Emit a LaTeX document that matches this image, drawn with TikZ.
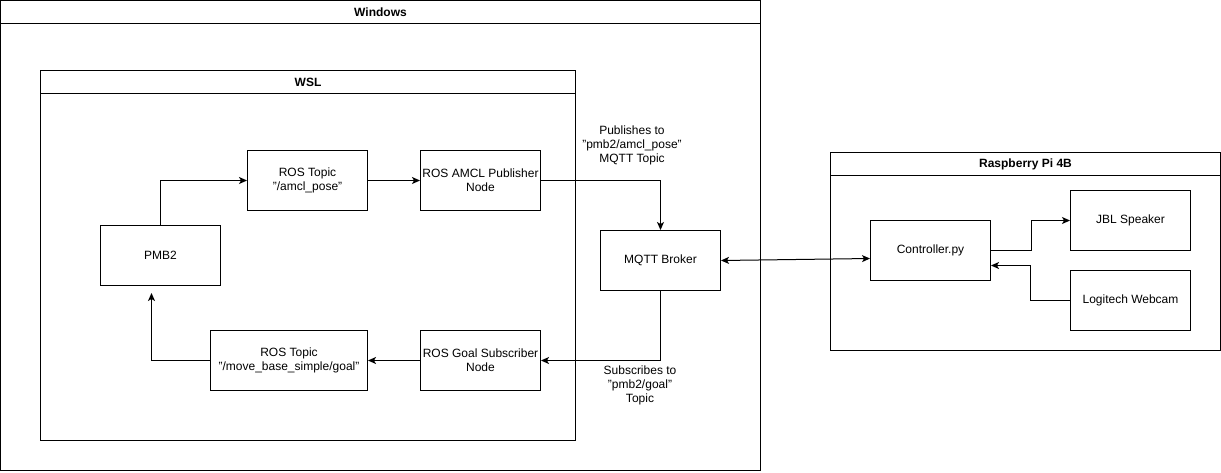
\documentclass[tikz,border=0pt]{standalone}
\usepackage{fontspec}
\setmainfont{Liberation Sans}
\usepackage{tikz}
\usetikzlibrary{arrows.meta}

\begin{document}
\begin{tikzpicture}[x=1pt,y=-1pt,
    line width=1pt,
    font=\fontsize{12}{14}\selectfont,
    box/.style={draw, minimum width=120pt, minimum height=60pt, inner sep=0pt, align=center},
    title/.style={font=\fontsize{12}{14}\selectfont\bfseries},
    tip/.tip={Stealth[length=8pt,width=7pt,inset=2pt]},
    link/.style={-tip}
]
\useasboundingbox (0,0) rectangle (1221,472);

% containers
\draw (0.5,0.5) rectangle (760.5,470.5);
\draw (0.5,23.5) -- (760.5,23.5);
\node[title] (windows) at (380.5,12) {Windows};

\draw (40.5,70.5) rectangle (575.5,440.5);
\draw (40.5,93.5) -- (575.5,93.5);
\node[title] (wsl) at (308,82) {WSL};

\draw (830.5,152.5) rectangle (1220.5,350.5);
\draw (830.5,175.5) -- (1220.5,175.5);
\node[title] (raspi) at (1025.5,164) {Raspberry Pi 4B};

% nodes
\node[box] (pmb) at (160.5,255.5) {PMB2};
\node[box] (amcltopic) at (307.5,180.5) {ROS Topic\\"/amcl\_pose"};
\node[box] (amclpub) at (480.5,180.5) {ROS AMCL Publisher\\Node};
\node[box, minimum width=157pt] (goaltopic) at (289,360.5) {ROS Topic\\"/move\_base\_simple/goal"};
\node[box] (goalsub) at (480.5,360.5) {ROS Goal Subscriber\\Node};
\node[box] (broker) at (660.5,260.5) {MQTT Broker};
\node[box] (controller) at (930.5,250.5) {Controller.py};
\node[box] (speaker) at (1130.5,220.5) {JBL Speaker};
\node[box] (webcam) at (1130.5,300.5) {Logitech Webcam};

% edge labels
\node[align=center] (publabel) at (632,145) {Publishes to\\"pmb2/amcl\_pose"\\MQTT Topic};
\node[align=center] (sublabel) at (640,385) {Subscribes to\\"pmb2/goal"\\Topic};

% connectors
\draw[link] (pmb.north) |- (amcltopic.west);
\draw[link] (amcltopic) -- (amclpub);
\draw[link] (amclpub.east) -| (broker.north);
\draw[link] (broker.south) |- (goalsub.east);
\draw[link] (goalsub) -- (goaltopic);
\draw[link, shorten >=7pt] (goaltopic.west) -| ([xshift=-9pt]pmb.south);
\draw[tip-tip] (broker.east) -- ([yshift=-8pt]controller.west);
\draw[link] (controller.east) -- ++(40,0) |- (speaker.west);
\draw[link] (webcam.west) -- ++(-40,0) |- ([yshift=-15pt]controller.east);
\end{tikzpicture}
\end{document}
